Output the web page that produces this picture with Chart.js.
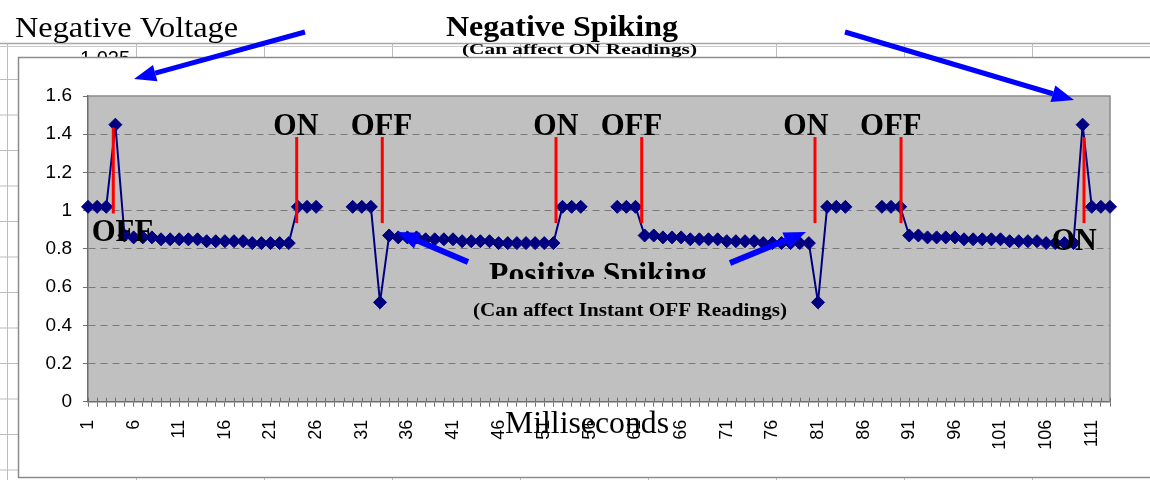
<!DOCTYPE html>
<html><head><meta charset="utf-8">
<script src="https://cdn.jsdelivr.net/npm/chart.js@4/dist/chart.umd.min.js"></script>
<style>html,body{margin:0;padding:0;background:#fff;overflow:hidden}#wrap{width:1150px;height:480px;position:relative}canvas{display:block}</style>
</head><body><div id="wrap"><canvas id="c" width="1150" height="480" style="width:1150px;height:480px"></canvas></div>
<script>
// ---- data ----
const milliseconds = [1,2,3,4,5,6,7,8,9,10,11,12,13,14,15,16,17,18,19,20,21,22,23,24,25,26,27,28,29,30,
  31,32,33,34,35,36,37,38,39,40,41,42,43,44,45,46,47,48,49,50,51,52,53,54,55,56,57,58,59,60,
  61,62,63,64,65,66,67,68,69,70,71,72,73,74,75,76,77,78,79,80,81,82,83,84,85,86,87,88,89,90,
  91,92,93,94,95,96,97,98,99,100,101,102,103,104,105,106,107,108,109,110,111,112,113];
const xTickLabels = [1,6,11,16,21,26,31,36,41,46,51,56,61,66,71,76,81,86,91,96,101,106,111];
const cycle1 = [1.02,1.02,1.02,1.45,0.87,0.86,0.86,0.86,0.85,0.85,0.85,0.85,0.85,0.84,0.84,0.84,0.84,0.84,0.83,0.83,0.83,0.83,0.83,1.02,1.02,1.02];
const cycle2 = [1.02,1.02,1.02,0.52,0.87,0.86,0.86,0.86,0.85,0.85,0.85,0.85,0.84,0.84,0.84,0.84,0.83,0.83,0.83,0.83,0.83,0.83,0.83,1.02,1.02,1.02];
const cycle3 = [1.02,1.02,1.02,0.87,0.87,0.86,0.86,0.86,0.85,0.85,0.85,0.85,0.84,0.84,0.84,0.84,0.83,0.83,0.83,0.83,0.83,0.83,0.52,1.02,1.02,1.02];
const cycle4 = [1.02,1.02,1.02,0.87,0.87,0.86,0.86,0.86,0.86,0.85,0.85,0.85,0.85,0.85,0.84,0.84,0.84,0.84,0.83,0.83,0.83,0.83,1.45,1.02,1.02,1.02];
const gap = [null,null,null];
const voltage = [...cycle1, ...gap, ...cycle2, ...gap, ...cycle3, ...gap, ...cycle4];
const yMin = 0, yMax = 1.6, yStep = 0.2;
// switching events (ms position, label, top/bottom volts of red marker)
const switchMs    = [3.77, 23.87, 33.25, 52.29, 61.68, 80.67, 90.1, 110.15];
const switchLabel = ['OFF','ON','OFF','ON','OFF','ON','OFF','ON'];
const switchTop   = [1.435, 1.385, 1.385, 1.385, 1.385, 1.385, 1.385, 1.385];
const switchBot   = [0.985, 0.935, 0.935, 0.935, 0.935, 0.935, 0.935, 0.935];

// ---- helpers ----
function fitText(c, text, x, y, w, font){
  c.save(); c.font = font; c.textAlign='left'; c.textBaseline='alphabetic';
  const m = c.measureText(text).width;
  c.translate(x, y); c.scale(w / m, 1); c.fillText(text, 0, 0); c.restore();
}
function arrow(c, x1, y1, x2, y2, w, hl, hw){
  const a = Math.atan2(y2 - y1, x2 - x1);
  const bx = x2 - hl * Math.cos(a), by = y2 - hl * Math.sin(a);
  c.save(); c.strokeStyle = c.fillStyle = '#0000ff'; c.lineWidth = w; c.lineCap = 'butt';
  c.beginPath(); c.moveTo(x1, y1); c.lineTo(bx, by); c.stroke();
  c.beginPath(); c.moveTo(x2, y2);
  c.lineTo(bx + hw / 2 * Math.sin(a), by - hw / 2 * Math.cos(a));
  c.lineTo(bx - hw / 2 * Math.sin(a), by + hw / 2 * Math.cos(a));
  c.closePath(); c.fill(); c.restore();
}
const SERIF = '"Liberation Serif","Times New Roman",serif';
const SANS = '"Liberation Sans",Arial,sans-serif';

const bgPlugin = {
  id: 'bg',
  beforeDraw(chart){
    const c = chart.ctx, a = chart.chartArea;
    c.save();
    c.fillStyle = '#fff'; c.fillRect(0, 0, 1150, 480);
    // spreadsheet cells behind the chart object
    c.strokeStyle = '#bdbdbd'; c.lineWidth = 1;
    [7.5,136.5,264.5,392.5,520.5,648.5,776.5,904.5,1032.5].forEach(x => { c.beginPath(); c.moveTo(x, 43); c.lineTo(x, 480); c.stroke(); });
    c.strokeStyle = '#a8a8a8'; c.lineWidth = 1.5;
    c.beginPath(); c.moveTo(0, 43.5); c.lineTo(1150, 43.5); c.stroke();
    c.strokeStyle = '#c8c8c8'; c.lineWidth = 1;
    c.beginPath(); c.moveTo(0, 46.5); c.lineTo(1150, 46.5); c.stroke();
    c.strokeStyle = '#bdbdbd';
    for (let y = 79.5; y < 480; y += 35.5){ c.beginPath(); c.moveTo(0, y); c.lineTo(18, y); c.stroke(); }
    c.fillStyle = '#000'; c.font = '20px ' + SANS; c.textAlign = 'right'; c.textBaseline = 'alphabetic';
    c.fillText('1.025', 130, 65);
    // chart object box
    c.fillStyle = '#fff'; c.fillRect(18, 57, 1140, 421);
    c.strokeStyle = '#8c8c8c'; c.lineWidth = 1.5;
    c.strokeRect(18.5, 57.5, 1150, 420);
    // plot area
    c.fillStyle = '#c0c0c0'; c.fillRect(a.left, a.top, a.right - a.left, a.bottom - a.top);
    c.restore();
  },
  beforeDatasetsDraw(chart){
    const c = chart.ctx, a = chart.chartArea, xs = chart.scales.x;
    c.save();
    c.strokeStyle = '#8a8a8a'; c.lineWidth = 1.5;
    c.beginPath(); c.moveTo(a.left, a.top); c.lineTo(a.right, a.top); c.lineTo(a.right, a.bottom); c.stroke();
    // upper half of crossing tick marks
    c.strokeStyle = '#707070'; c.lineWidth = 1;
    for (let i = 0; i < milliseconds.length; i++){
      const x = Math.round(xs.getPixelForValue(i)) + 0.5;
      c.beginPath(); c.moveTo(x, a.bottom - 4); c.lineTo(x, a.bottom); c.stroke();
    }
    c.restore();
  },
  afterDatasetsDraw(chart){
    const c = chart.ctx, xs = chart.scales.x, ys = chart.scales.y;
    c.save();
    // red switching markers
    c.strokeStyle = '#ff0000'; c.lineWidth = 3;
    switchMs.forEach((m, i) => {
      const x = xs.getPixelForValue(m - 1);
      c.beginPath(); c.moveTo(x, ys.getPixelForValue(switchTop[i])); c.lineTo(x, ys.getPixelForValue(switchBot[i])); c.stroke();
    });
    c.fillStyle = '#000';
    const F = 'bold 32px ' + SERIF;
    const pos = [[91.7,241],[273.3,135],[350.7,135],[533.3,135],[600.7,135],[783.3,135],[860,135],[1051.7,250]];
    switchLabel.forEach((t, i) => fitText(c, t, pos[i][0], pos[i][1], t === 'ON' ? 45 : 61.5, F));
    // positive spiking note (clipped text box)
    c.save(); c.beginPath(); c.rect(400, 250, 420, 29); c.clip();
    fitText(c, 'Positive Spiking', 489, 284, 218, 'bold 31px ' + SERIF);
    c.restore();
    fitText(c, '(Can affect Instant OFF Readings)', 473, 316, 314, 'bold 18px ' + SERIF);
    c.restore();
  },
  afterDraw(chart){
    const c = chart.ctx;
    c.save(); c.fillStyle = '#000';
    fitText(c, 'Negative Voltage', 15, 36.5, 223, '29px ' + SERIF);
    fitText(c, 'Negative Spiking', 446, 35.5, 232, 'bold 29px ' + SERIF);
    fitText(c, '(Can affect ON Readings)', 462, 53.5, 235, 'bold 15px ' + SERIF);
    fitText(c, 'Milliseconds', 505, 433, 164, '31px ' + SERIF);
    arrow(c, 305, 32, 134, 79, 5, 22, 17);
    arrow(c, 845, 32, 1074, 100, 5, 22, 17);
    arrow(c, 468, 262, 397, 232, 6, 22, 17);
    arrow(c, 730, 263, 806, 232, 6, 22, 17);
    c.restore();
  }
};

new Chart(document.getElementById('c').getContext('2d'), {
  type: 'line',
  data: {
    labels: milliseconds,
    datasets: [{
      data: voltage,
      borderColor: '#000080', backgroundColor: '#000080', borderWidth: 2,
      pointStyle: 'rectRot', pointRadius: 6.5, pointBorderWidth: 1,
      pointBorderColor: '#000080', pointBackgroundColor: '#000080',
      spanGaps: false, tension: 0, clip: false
    }]
  },
  options: {
    responsive: false, animation: false, devicePixelRatio: 1,
    layout: { padding: { left: 0, top: 96, right: 40, bottom: 0 } },
    plugins: { legend: { display: false }, tooltip: { enabled: false }, title: { display: false } },
    scales: {
      x: {
        type: 'category', offset: false,
        grid: { display: true, drawOnChartArea: false, drawTicks: true, tickLength: 5, color: '#707070', tickColor: '#707070', offset: false },
        border: { display: true, color: '#6e6e6e', width: 1.5 },
        ticks: {
          autoSkip: false, maxRotation: 90, minRotation: 90, padding: 13, color: '#000',
          font: { family: SANS, size: 18 },
          callback: function(v){ const l = this.getLabelForValue(v); return xTickLabels.includes(l) ? String(l) : ''; }
        },
        afterFit: s => { s.height = 78.3; }
      },
      y: {
        min: yMin, max: yMax,
        ticks: { stepSize: yStep, padding: 11, color: '#000', font: { family: SANS, size: 19 },
          callback: v => String(Math.round(v * 10) / 10) },
        grid: {
          color: ctx => (ctx.tick && (ctx.tick.value === 0 || ctx.tick.value > 1.59)) ? 'rgba(0,0,0,0)' : '#7a7a7a',
          lineWidth: 1, tickColor: '#707070', tickLength: 5, tickBorderDash: []
        },
        border: { display: true, color: '#6e6e6e', width: 1.5, dash: [7, 5] },
        afterFit: s => { s.width = 88; }
      }
    }
  },
  plugins: [bgPlugin]
});
</script></body></html>
